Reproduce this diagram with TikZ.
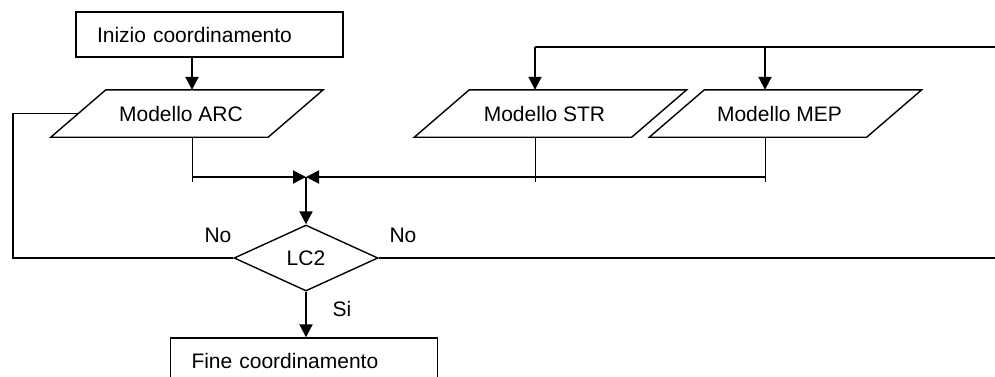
\documentclass[tikz,border=0pt]{standalone}
\usepackage{fontspec}
\setmainfont{Liberation Sans}
\usetikzlibrary{shapes.geometric,arrows.meta,calc}
\begin{document}
\begin{tikzpicture}[x=1pt,y=-1pt,
  every node/.style={font=\fontsize{21}{25}\selectfont},
  terminal/.style={draw,line width=1.4pt,rectangle,minimum height=45pt,
    text width=225pt,inner xsep=21pt,inner ysep=0pt,align=left},
  datainput/.style={rectangle,minimum width=217pt,minimum height=47pt,inner sep=0pt},
  outline/.style={line width=1.4pt,line join=miter},
  decision/.style={draw,line width=1.4pt,diamond,minimum width=144pt,
    minimum height=66pt,inner sep=0pt},
  caption/.style={xshift=-6pt,inner sep=0pt},
  flow/.style={line width=2pt,-{Triangle[length=13pt,width=13pt]}},
  bus/.style={line width=2pt},
  link/.style={line width=1.5pt},
  stub/.style={line width=1pt},
  tag/.style={inner sep=0pt}
]
\useasboundingbox (0,0) rectangle (995,376);
\clip (0,0) rectangle (995,376);

% process boxes
\node[terminal] (start) at (209.5,34.5) {Inizio coordinamento};
\node[datainput,label={[caption]center:Modello ARC}] (arc) at (187,113.5) {};
\node[datainput,label={[caption]center:Modello STR}] (str) at (550.5,113.5) {};
\node[datainput,label={[caption]center:Modello MEP}] (mep) at (785.5,113.5) {};
\node[decision] (lc) at (306,258) {LC2};
\node[terminal] (end) at (304,360.5) {Fine coordinamento};

% slanted outlines of the model boxes
\foreach \m in {arc,str,mep}
  \draw[outline] ([xshift=27.5pt]\m.north west) -- ([xshift=27.5pt]\m.north east)
    -- ([xshift=-27.5pt]\m.south east) -- ([xshift=-27.5pt]\m.south west) -- cycle;

% branch labels
\node[tag] (noleft) at (218,235) {No};
\node[tag] (noright) at (403,235) {No};
\node[tag] (si) at (342,309) {Si};

% junctions and loose ends
\coordinate (merge) at (306,177);
\coordinate (lcorner) at (13,258);
\coordinate (busSTR) at (535,47);
\coordinate (busMEP) at (765,47);
\coordinate (topend) at (995,47);
\coordinate (noend) at (995,258);

% start to ARC
\draw[flow] ([xshift=-17.5pt]start.south) -- ([xshift=-17.5pt]start.south |- arc.north);

% incoming bus to STR and MEP
\draw[bus] (busSTR) -- (topend);
\draw[flow] (busSTR) -- (busSTR |- str.north);
\draw[flow] (busMEP) -- (busMEP |- mep.north);

% models gathered into the check
\draw[stub] ([xshift=5pt]arc.south) -- ++(0,45);
\draw[stub] (busSTR |- str.south) -- ++(0,45);
\draw[stub] (busMEP |- mep.south) -- ++(0,45);
\draw[flow] ([xshift=5pt]arc.south |- merge) -- (merge);
\draw[flow] (busMEP |- merge) -- (merge);
\draw[flow] (merge) -- (lc.north);

% outcomes of LC2
\draw[link] (lc.west) -- (lcorner) |- (arc.west);
\draw[bus] (lc.east) -- (noend);
\draw[flow] (lc.south) -- (lc.south |- end.north);
\end{tikzpicture}
\end{document}
